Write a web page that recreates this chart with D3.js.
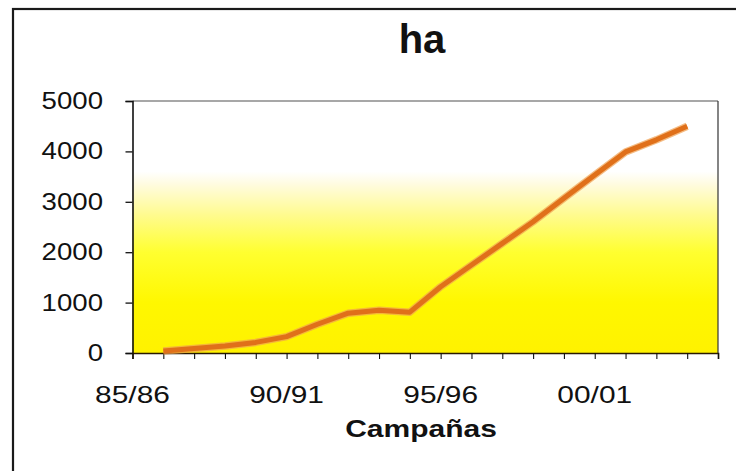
<!DOCTYPE html>
<html><head><meta charset="utf-8">
<script src="https://cdn.jsdelivr.net/npm/d3@7"></script>
<style>html,body{margin:0;padding:0;background:#fff;}svg{display:block;}</style>
</head><body>
<svg id="chart" width="736" height="471"></svg>
<script>
const categories = ["85/86","86/87","87/88","88/89","89/90","90/91","91/92","92/93","93/94","94/95","95/96","96/97","97/98","98/99","99/00","00/01","01/02","02/03","03/04","04/05"];
const seriesCategories = ["86/87","87/88","88/89","89/90","90/91","91/92","92/93","93/94","94/95","95/96","96/97","97/98","98/99","99/00","00/01","01/02","02/03","03/04"];
const seriesValues = [40, 90, 140, 210, 325, 570, 790, 850, 810, 1315, 1745, 2175, 2605, 3070, 3530, 3990, 4230, 4500];
const xTickLabels = ["85/86","90/91","95/96","00/01"];
const yTicks = [0, 1000, 2000, 3000, 4000, 5000];
const titleText = "ha";
const xAxisTitle = "Campañas";

(function () {
const svg = d3.select("#chart");
const pl = 132.5, pr = 718, pt = 101, pb = 353;
const SX = 1.3, SY = 1.15;
const font = "'Liberation Sans', Arial, sans-serif";

const x = d3.scalePoint().domain(categories).range([pl, pr]).padding(0);
const y = d3.scaleLinear().domain([0, 5000]).range([pb, pt]);

// outer border
svg.append("rect").attr("x", 13).attr("y", 9).attr("width", 740).attr("height", 480)
  .attr("fill", "none").attr("stroke", "#1a1a1a").attr("stroke-width", 2.2);

// gradient background
const defs = svg.append("defs");
const g = defs.append("linearGradient").attr("id", "bg").attr("x1", 0).attr("y1", 0).attr("x2", 0).attr("y2", 1);
[[0, "#ffffff"], [0.28, "#ffffff"], [0.33, "#fffbe0"], [0.45, "#fffb90"], [0.6, "#ffff30"], [0.8, "#fff700"], [1, "#fff200"]]
  .forEach(([o, c]) => g.append("stop").attr("offset", o).attr("stop-color", c));

svg.append("rect").attr("x", pl).attr("y", pt).attr("width", pr - pl).attr("height", pb - pt)
  .attr("fill", "url(#bg)");

// plot frame top & right
svg.append("line").attr("x1", pl).attr("x2", pr).attr("y1", pt).attr("y2", pt)
  .attr("stroke", "#8a8a8a").attr("stroke-width", 1.5);
svg.append("line").attr("x1", pr).attr("x2", pr).attr("y1", pt).attr("y2", pb)
  .attr("stroke", "#333").attr("stroke-width", 1.2);

// y axis
const yAxis = d3.axisLeft(y).tickValues(yTicks).tickSize(7).tickFormat("");
const yg = svg.append("g").attr("transform", `translate(${pl},0)`).call(yAxis);
yg.select(".domain").attr("stroke", "#111").attr("stroke-width", 1.6);
yg.selectAll(".tick line").attr("stroke", "#111").attr("stroke-width", 1.3);
svg.append("g").selectAll("text").data(yTicks).join("text")
  .attr("transform", d => `translate(103,${y(d) + 8}) scale(${SY},1)`)
  .attr("text-anchor", "end").attr("font-family", font).attr("font-size", 24).attr("fill", "#111")
  .text(d => d);

// x axis
const xAxis = d3.axisBottom(x).tickSize(6).tickFormat("");
const xg = svg.append("g").attr("transform", `translate(0,${pb})`).call(xAxis);
xg.select(".domain").attr("stroke", "#2a1a00").attr("stroke-width", 1.6);
xg.selectAll(".tick line").attr("stroke", "#111").attr("stroke-width", 1.1);
svg.append("g").selectAll("text").data(xTickLabels).join("text")
  .attr("transform", d => `translate(${x(d)},403) scale(${SX},1)`)
  .attr("text-anchor", "middle").attr("font-family", font).attr("font-size", 23).attr("fill", "#111")
  .text(d => d);

// line
const line = d3.line().x((d, i) => x(seriesCategories[i])).y(d => y(d));
svg.append("path").datum(seriesValues).attr("d", line)
  .attr("fill", "none").attr("stroke", "#f0a050").attr("stroke-width", 7.5).attr("stroke-linejoin", "round").attr("opacity", 0.7);
svg.append("path").datum(seriesValues).attr("d", line)
  .attr("fill", "none").attr("stroke", "#e0701a").attr("stroke-width", 5).attr("stroke-linejoin", "round");

// titles
svg.append("text").attr("transform", `translate(422,53) scale(1.0,1)`)
  .attr("text-anchor", "middle").attr("font-family", font).attr("font-weight", "bold").attr("font-size", 40).attr("fill", "#111")
  .text(titleText);
svg.append("text").attr("transform", `translate(421,437) scale(1.25,1)`)
  .attr("text-anchor", "middle").attr("font-family", font).attr("font-weight", "bold").attr("font-size", 24).attr("fill", "#111")
  .text(xAxisTitle);
})();
</script>
</body></html>
